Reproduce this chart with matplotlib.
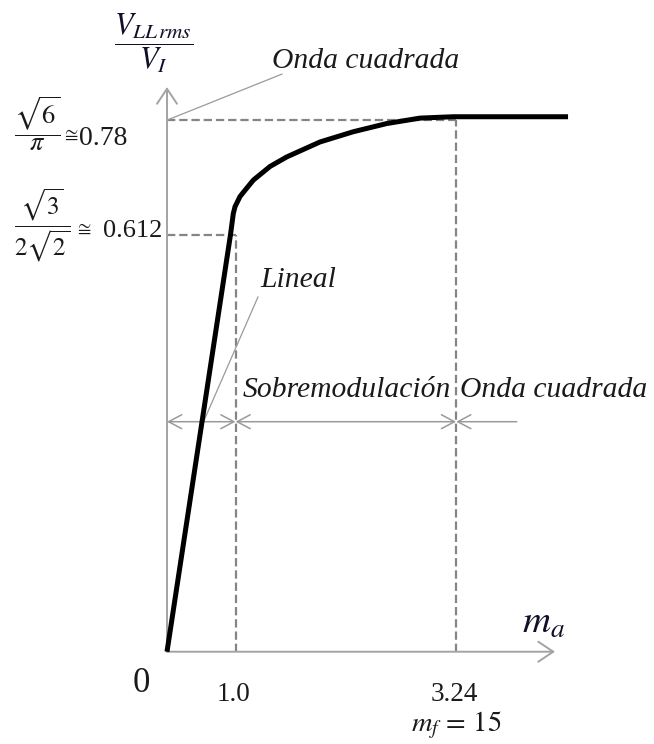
import numpy as np
import matplotlib
matplotlib.use("Agg")
import matplotlib.pyplot as plt

plt.rcParams["mathtext.fontset"] = "stix"
plt.rcParams["font.family"] = ["Liberation Serif", "DejaVu Serif"]
plt.rcParams["lines.scale_dashes"] = False

# ---- data -------------------------------------------------------------
# output line-to-line rms voltage (normalised by V_I) vs modulation index m_a
ma_curve = [0.0, 0.927, 0.968, 0.993, 1.046, 1.096, 1.181, 1.350, 1.520,
            1.858, 2.196, 2.535, 2.873, 3.208, 4.376]
v_curve = [0.0, 0.612, 0.643, 0.653, 0.668, 0.677, 0.692, 0.712, 0.726,
           0.748, 0.763, 0.775, 0.783, 0.785, 0.785]

ma_ticks = [1.0, 3.24]
ma_tick_labels = ["1.0", "3.24"]
v_linear_max = 0.612          # sqrt(3)/(2 sqrt(2))
v_square = 0.78               # sqrt(6)/pi
region_bounds = [0.0, 1.0, 3.24, 3.855]
region_names = ["Lineal", "Sobremodulación", "Onda cuadrada"]
region_level = 0.3375
x_axis_end = 4.244
y_axis_end = 0.8286

# ---- piecewise-linear (schematic) m_a axis -----------------------------
def fwd(m):
    m = np.asarray(m, dtype=float)
    return np.where(m < 1.0, 68.5 * m, 68.5 + 98.5 * (m - 1.0))


def inv(u):
    u = np.asarray(u, dtype=float)
    return np.where(u < 68.5, u / 68.5, 1.0 + (u - 68.5) / 98.5)


fig = plt.figure(figsize=(6.54, 7.44), dpi=100)
ax = fig.add_axes([0, 0, 1, 1])
ax.set_xscale("function", functions=(fwd, inv))
ax.set_xlim(-167 / 68.5, 1.0 + (487 - 68.5) / 98.5)
ax.set_ylim(-0.1354, 0.9563)
ax.axis("off")

axis_gray = "#a3a3a3"
dash_gray = "#858585"
thin_gray = "#9a9a9a"
ink = "#1a1a1a"
math_ink = "#101028"

# axes with open arrowheads
axis_arrow = dict(arrowstyle="->, head_length=0.54, head_width=0.36",
                  mutation_scale=20, color=axis_gray, lw=1.4,
                  shrinkA=0, shrinkB=0)
ax.annotate("", xy=(0, y_axis_end), xytext=(0, 0), arrowprops=axis_arrow)
ax.annotate("", xy=(x_axis_end, 0), xytext=(0, 0), arrowprops=axis_arrow)

# dashed guide lines
dash = dict(color=dash_gray, lw=1.6, linestyle=(0, (6.0, 2.8)))
ax.plot([0, ma_ticks[0]], [v_linear_max, v_linear_max], **dash)
ax.plot([ma_ticks[0], ma_ticks[0]], [0, v_linear_max], **dash)
ax.plot([0, ma_ticks[1]], [v_square, v_square], **dash)
ax.plot([ma_ticks[1], ma_ticks[1]], [0, v_square], **dash)

# characteristic
ax.plot(ma_curve, v_curve, color="black", lw=3.6,
        solid_capstyle="butt", solid_joinstyle="round", zorder=5)

# region arrows
styles = ["<->", "<->", "<-"]
for a, b, st in zip(region_bounds[:-1], region_bounds[1:], styles):
    ax.annotate("", xy=(b, region_level), xytext=(a, region_level),
                arrowprops=dict(arrowstyle=st + ", head_length=0.47, head_width=0.25",
                                mutation_scale=20, color=thin_gray, lw=1.1,
                                shrinkA=0, shrinkB=0))

label_font = dict(fontsize=21.3, style="italic", color=ink)

# region labels
ax.text(1.076, 0.374, region_names[1], ha="left", va="baseline", **label_font)
ax.text(3.279, 0.3737, region_names[2], ha="left", va="baseline", **label_font)

# "Lineal" with leader to the linear segment
ax.plot([1.228, 0.533], [0.5205, region_level], color=thin_gray, lw=0.9)
ax.text(1.249, 0.535, region_names[0], ha="left", va="baseline", **label_font)

# "Onda cuadrada" with leader to the square-wave level on the axis
ax.plot([0, 1.472], [v_square, 0.8476], color=thin_gray, lw=0.9)
ax.text(1.371, 0.8565, "Onda cuadrada", ha="left", va="baseline", **label_font)

# x tick labels
for t, lab in zip(ma_ticks, ma_tick_labels):
    ax.annotate(lab, xy=(t, 0), xytext=(-2, -49), textcoords="offset pixels",
                ha="center", va="baseline", fontsize=19.5, color=ink)
ax.annotate("0", xy=(0, 0), xytext=(-26, -40), textcoords="offset pixels",
            ha="center", va="baseline", fontsize=25, color=ink)
ax.annotate(r"$m_f\,=\,15$", xy=(ma_ticks[1], 0), xytext=(0, -80),
            textcoords="offset pixels", ha="center", va="baseline",
            fontsize=20.5, color=ink)
ax.annotate(r"$m_a$", xy=(x_axis_end, 0), xytext=(-33, 19),
            textcoords="offset pixels", ha="left", va="baseline",
            fontsize=28, color=math_ink)

# y tick labels
ax.annotate("0.78", xy=(0, v_square), xytext=(-40, -25),
            textcoords="offset pixels", ha="right", va="baseline",
            fontsize=20, color=ink)
ax.annotate(r"$\cong$", xy=(0, v_square), xytext=(-96, -15),
            textcoords="offset pixels", ha="center", va="center",
            fontsize=14, color=ink)
ax.annotate(r"$\dfrac{\sqrt{6}}{\pi}$", xy=(0, v_square), xytext=(-130, -3),
            textcoords="offset pixels", ha="center", va="center",
            fontsize=19, color=ink)

ax.annotate("0.612", xy=(0, v_linear_max), xytext=(-5, -2),
            textcoords="offset pixels", ha="right", va="baseline",
            fontsize=19, color=ink)
ax.annotate(r"$\cong$", xy=(0, v_linear_max), xytext=(-83, 5),
            textcoords="offset pixels", ha="center", va="center",
            fontsize=14, color=ink)
ax.annotate(r"$\dfrac{\sqrt{3}}{2\sqrt{2}}$", xy=(0, v_linear_max),
            xytext=(-125, 10), textcoords="offset pixels",
            ha="center", va="center", fontsize=18, color=ink)

# y axis quantity
ax.annotate(r"$\dfrac{V_{LL}{}_{rms}}{V_I}$", xy=(0, y_axis_end),
            xytext=(-13, 44), textcoords="offset pixels",
            ha="center", va="center", fontsize=22, color=math_ink)

fig.savefig("out.png", dpi=100)
